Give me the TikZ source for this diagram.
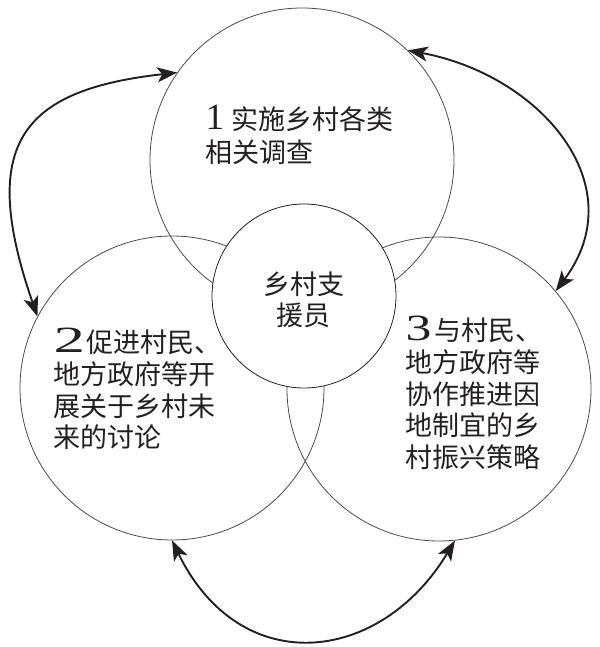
\documentclass[tikz,border=0pt]{standalone}
\usepackage{fontspec}
\usepackage{graphicx}
\setmainfont{Noto Sans CJK SC}
\newfontfamily\numfont{Liberation Serif}
\usetikzlibrary{arrows.meta}
\definecolor{ink}{HTML}{231F20}
\definecolor{rim}{HTML}{4A4A4A}
\newcommand{\Num}[1]{{\numfont\fontsize{37pt}{37pt}\selectfont #1}}

\begin{document}
\begin{tikzpicture}[
  x=1pt,y=-1pt,
  ring/.style={circle,draw=rim,line width=0.8pt,minimum size=304pt,inner sep=0pt},
  hubring/.style={circle,draw=ink,line width=0.8pt,fill=white,minimum size=184pt,inner sep=0pt},
  body/.style={inner sep=0pt,align=left,anchor=north west,text=ink,font=\fontsize{27pt}{31.7pt}\selectfont},
  link/.style={<->,>={Stealth[length=20pt,width=15pt,inset=5pt]},line width=1.9pt,draw=ink}
]
\useasboundingbox (0,0) rectangle (599,647);
\node[ring] (survey) at (302,160) {};
\node[ring] (talks) at (172,388) {};
\node[ring] (strategy) at (439,389) {};
\node[hubring] (hub) at (304,296) {};
\node[body,font=\fontsize{27pt}{33pt}\selectfont] (surveytxt) at (205.5,105) {\Num{1}\kern7pt 实施乡村各类\\相关调查};
\node[body] (talkstxt) at (53.5,328) {\scalebox{1.7}[1]{\Num{2}}\kern1pt 促进村民、\\地方政府等开\\展关于乡村未\\来的讨论};
\node[body] (strategytxt) at (405.5,316) {\scalebox{1.4}[1]{\Num{3}}\kern3pt 与村民、\\地方政府等\\协作推进因\\地制宜的乡\\村振兴策略};
\node[inner sep=0pt,align=center,text=ink,font=\fontsize{27pt}{31pt}\selectfont] (hubtxt) at (303.5,300) {乡村支\\援员};
\draw[link] (talks.152) .. controls (-22,145) and (20,90) .. (survey.145);
\draw[link] (survey.46) .. controls (540,75) and (635,185) .. (strategy.40);
\draw[link] (talks.270) .. controls (240,680) and (380,665) .. (strategy.276);
\end{tikzpicture}
\end{document}
